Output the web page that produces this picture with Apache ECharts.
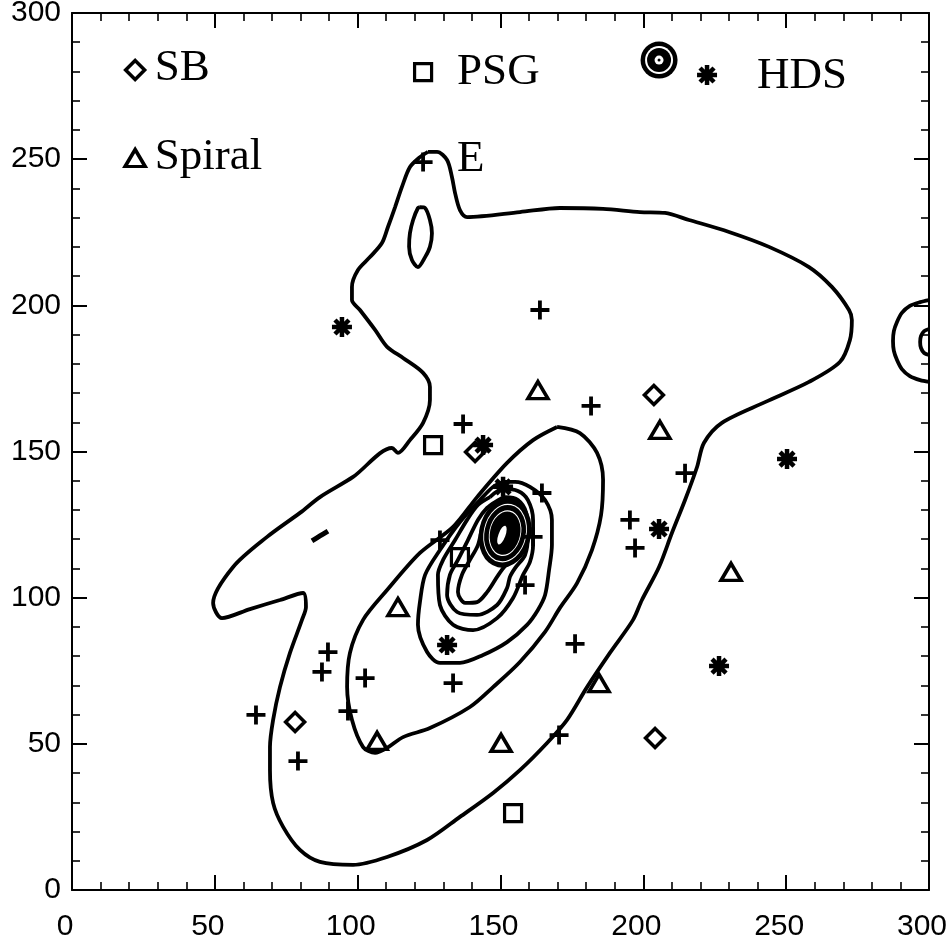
<!DOCTYPE html>
<html>
<head>
<meta charset="utf-8">
<title>Galaxy types over the density contours</title>
<script src="https://cdn.jsdelivr.net/npm/echarts@6/dist/echarts.min.js"></script>
<style>html,body{margin:0;padding:0;background:#fff;}</style>
</head>
<body>
<div id="chart" style="width:952px;height:951px;"></div>
<script>
// axis ticks (both axes)
var axisTicks = [0, 50, 100, 150, 200, 250, 300];

// galaxies by type
var sbPoints = [[141.1,149.8],[203.7,169.3],[78.1,57.5],[204.1,52.0]];
var psgPoints = [[126.4,152.2],[135.8,113.9],[154.4,26.3]];
var hdsPoints = [[94.5,192.6],[143.9,152.2],[150.9,137.9],[205.5,123.5],[250.3,147.4],[226.5,76.6],[131.3,83.8]];
var spiralPoints = [[163.1,171.0],[205.8,157.4],[114.1,96.8],[230.7,108.8],[106.8,51.0],[150.2,50.3],[184.5,70.8]];
var ePoints = [[163.8,198.4],[181.7,165.6],[136.9,159.4],[164.5,135.8],[195.3,126.6],[197.1,117.0],[128.8,119.7],
  [161.4,120.8],[158.6,104.3],[214.6,142.6],[64.4,59.9],[79.1,44.1],[89.6,81.4],[87.5,74.6],[102.6,72.5],
  [96.6,61.2],[133.4,70.8],[176.1,84.2],[170.5,53.0]];

// key in the upper part of the plot
var keyNames = ['SB', 'PSG', 'HDS', 'Spiral', 'E'];
var keyMarks = [[22.1,280.5],[122.9,279.8],[222.3,278.8],[22.1,250.4],[122.9,249.0]];
var keyText = [[29.0,281.2],[134.8,279.8],[239.8,278.5],[29.0,250.7],[134.8,250.1]];
var bullseyePos = [[205.5,283.9]];

// density contours, outermost first
var contourOuter = [[124.6,252.5],[127.8,252.5],[131.3,249.7],[133.0,243.9],[134.1,238.4],[135.8,232.6],[138.3,230.2],
  [156.8,231.9],[170.8,233.3],[185.9,233.0],[198.8,231.9],[207.6,231.6],[216.0,229.2],[230.0,225.1],[244.0,220.0],
  [258.0,213.1],[266.0,206.3],[272.0,198.4],[273.0,195.0],[272.3,188.1],[268.8,180.6],[258.0,173.8],[242.6,166.9],
  [227.5,159.8],[221.2,152.9],[218.8,144.7],[214.6,133.4],[210.0,122.1],[205.5,110.5],[199.5,99.2],[196.4,92.4],
  [188.3,81.1],[180.3,69.4],[173.3,58.2],[166.3,50.3],[156.8,41.0],[147.4,33.2],[135.8,25.0],[124.3,17.1],
  [110.3,11.3],[98.4,8.6],[86.8,9.6],[79.8,13.7],[73.9,21.6],[70.4,29.8],[69.3,41.0],[69.3,48.9],[70.4,58.2],
  [72.8,69.4],[76.3,81.1],[80.5,92.4],[81.9,96.8],[80.9,101.6],[72.8,99.2],[62.3,96.1],[52.5,93.0],[49.4,98.2],
  [56.4,110.5],[68.3,120.8],[79.8,129.0],[86.8,134.4],[98.4,141.3],[112.0,151.2],[114.1,149.5],[118.3,153.9],
  [122.9,159.8],[125.3,167.6],[125.3,172.1],[122.9,176.9],[115.9,182.0],[110.3,185.8],[106.1,191.6],[100.8,198.4],
  [98.0,201.8],[98.0,206.3],[100.1,212.1],[104.3,216.5],[108.5,221.3],[110.6,226.8],[113.1,233.6],[115.5,240.5],
  [118.3,247.3],[121.8,250.7],[124.6,252.5]];
var contourIsland = [[121.8,233.6],[123.6,233.3],[125.3,229.2],[126.0,224.7],[125.3,220.0],[123.6,216.5],[121.1,213.1],
  [119.0,215.5],[118.0,220.0],[118.3,224.7],[119.4,229.2],[121.1,233.3],[121.8,233.6]];
var contourSpeck = [[84.0,119.4],[86.8,121.1],[89.6,122.8]];
var contourEdgeOuter = [[300.0,201.8],[296.9,201.1],[293.3,199.8],[290.5,197.4],[288.8,194.3],[287.7,191.2],
  [287.4,187.8],[287.7,184.4],[288.8,181.3],[290.5,178.2],[293.3,175.8],[296.9,174.4],[300.0,173.8]];
var contourEdgeInner = [[300.0,191.9],[298.3,191.2],[297.2,189.5],[296.9,187.5],[297.2,185.4],[298.3,183.7],[300.0,183.0]];
var contour2 = [[169.8,158.4],[177.8,156.3],[183.8,149.5],[185.9,140.3],[185.2,128.3],[182.0,116.3],[176.8,105.0],
  [170.8,96.5],[165.6,88.3],[156.8,78.0],[147.4,69.4],[139.3,62.6],[125.3,55.4],[115.9,52.3],[110.3,48.6],
  [106.1,46.9],[101.9,48.9],[98.0,58.2],[96.3,69.4],[97.3,81.1],[101.9,92.4],[110.3,102.6],[121.8,115.3],
  [133.4,124.2],[141.8,134.4],[152.3,146.1],[161.4,153.9],[169.8,158.4]];
var contour3 = [[150.9,139.6],[155.1,139.6],[160.3,137.9],[165.6,133.4],[168.0,126.6],[168.0,118.0],[167.0,109.5],
  [165.6,100.9],[163.1,95.8],[159.3,90.7],[152.3,84.8],[143.9,80.4],[135.8,77.7],[128.8,77.7],[124.3,81.4],
  [121.1,90.7],[121.8,98.5],[123.6,107.8],[128.8,116.3],[135.8,125.9],[142.8,133.4],[147.4,137.9],[150.9,139.6]];
var contour4 = [[146.3,134.4],[150.9,137.2],[156.1,136.5],[159.6,133.4],[161.4,126.6],[161.4,118.0],[160.3,112.2],
  [157.9,107.8],[154.4,99.9],[148.8,93.0],[140.4,88.9],[133.4,90.7],[128.8,97.5],[128.1,107.8],[129.9,112.9],
  [134.1,119.7],[138.3,126.6],[142.1,131.7],[146.3,134.4]];
var contour5 = [[148.1,132.7],[151.9,134.4],[156.1,133.4],[158.9,129.3],[159.6,121.4],[158.6,114.6],[155.1,110.1],
  [153.3,107.1],[152.3,103.3],[148.8,97.5],[141.8,94.1],[134.8,95.1],[131.3,100.9],[132.3,107.8],[135.1,112.9],
  [138.6,119.7],[142.1,126.6],[145.3,130.7],[148.1,132.7]];
var contour6 = [[149.8,131.4],[154.0,131.4],[156.8,128.3],[157.9,121.4],[156.8,114.6],[151.6,110.8],[148.8,107.1],
  [145.3,101.9],[141.8,98.5],[137.6,98.2],[135.1,101.9],[136.5,107.8],[139.3,112.9],[142.1,118.0],[143.9,124.9],
  [146.3,129.3],[149.8,131.4]];
var corePeak = [[151.6,122.1]];
var coreHole = [[150.5,121.4]];

var ink = '#000';
var clear = 'rgba(0,0,0,0)';
var tickFont = {color: ink, fontFamily: 'Liberation Sans', fontSize: 30};
var plusPath = 'path://M10,0L10,20M0,10L20,10';
var starPath = 'path://M10,0L10,20M0,10L20,10M3,3L17,17M3,17L17,3';
var ovalPath = 'path://M0,50A50,50,0,1,1,100,50A50,50,0,1,1,0,50Z';

function makeAxis(position, showLabel) {
  return {
    type: 'value',
    position: position,
    min: axisTicks[0],
    max: axisTicks[axisTicks.length - 1],
    interval: axisTicks[1] - axisTicks[0],
    axisLine: {show: true, onZero: false, lineStyle: {color: ink, width: 2}},
    axisTick: {show: true, inside: true, length: 15, lineStyle: {color: ink, width: 2}},
    minorTick: {show: true, splitNumber: 5, length: 8, lineStyle: {color: ink, width: 1.6}},
    splitLine: {show: false},
    minorSplitLine: {show: false},
    axisLabel: showLabel ? tickFont : {show: false}
  };
}

var xBottom = makeAxis('bottom', true);
xBottom.axisLabel = Object.assign({margin: 22, padding: [0, 14, 0, 0]}, tickFont);
var yLeft = makeAxis('left', true);
yLeft.axisLabel = Object.assign({margin: 11}, tickFont);

function contour(data, w) {
  return {type: 'line', data: data, symbol: 'none', showSymbol: false, smooth: 0.3,
    lineStyle: {color: ink, width: w || 3.8, opacity: 1}, silent: true, z: 2, clip: true};
}

function markers(data, symbol, size, bw) {
  return {type: 'scatter', data: data, symbol: symbol, symbolSize: size, silent: true, z: 5,
    itemStyle: {color: clear, borderColor: ink, borderWidth: bw, opacity: 1}};
}

function dot(data, symbol, size, color, z, rot, border) {
  return {type: 'scatter', data: data, symbol: symbol, symbolSize: size, symbolRotate: rot || 0, silent: true, z: z,
    itemStyle: border ? {color: clear, borderColor: color, borderWidth: border, opacity: 1} : {color: color, opacity: 1}};
}

var series = [
  contour(contourOuter), contour(contourIsland), contour(contourSpeck, 5),
  contour(contourEdgeOuter), contour(contourEdgeInner),
  contour(contour2), contour(contour3), contour(contour4), contour(contour5), contour(contour6),
  // dense core
  dot(corePeak, ovalPath, [52, 70], ink, 3, -12),
  dot(corePeak, ovalPath, [42, 58], '#fff', 3, -12, 1),
  dot(corePeak, ovalPath, [31, 45], '#fff', 3, -12, 1),
  dot(coreHole, ovalPath, [7, 20], '#fff', 3, -20),
  // galaxies, with the key symbol first
  markers([keyMarks[0]].concat(sbPoints), 'diamond', 19, 3.5),
  markers([keyMarks[1]].concat(psgPoints), 'rect', 17, 3.2),
  markers([keyMarks[2]].concat(hdsPoints), starPath, 20, 4.5),
  markers([keyMarks[3]].concat(spiralPoints), 'triangle', [20, 17], 3.5),
  markers([keyMarks[4]].concat(ePoints), plusPath, 19, 3.8)
];

// bullseye symbol in the key
[[37, ink], [28, '#fff'], [24, ink], [9, '#fff'], [3, ink]].forEach(function (layer, i) {
  series.push(dot(bullseyePos, 'circle', layer[0], layer[1], 6 + i));
});

// key text
series.push({
  type: 'scatter',
  data: keyNames.map(function (n, i) { return {name: n, value: keyText[i]}; }),
  symbolSize: 0,
  silent: true,
  z: 10,
  itemStyle: {opacity: 1},
  label: {show: true, position: 'right', distance: 0, formatter: '{b}', color: ink, opacity: 1,
    fontFamily: 'Liberation Serif', fontSize: 45, align: 'left', verticalAlign: 'middle'}
});

var chart = echarts.init(document.getElementById('chart'));
chart.setOption({
  backgroundColor: '#fff',
  animation: false,
  grid: {left: 72, top: 13, width: 857, height: 877, containLabel: false, outerBoundsMode: 'none'},
  xAxis: [xBottom, makeAxis('top', false)],
  yAxis: [yLeft, makeAxis('right', false)],
  series: series
});
</script>
</body>
</html>
